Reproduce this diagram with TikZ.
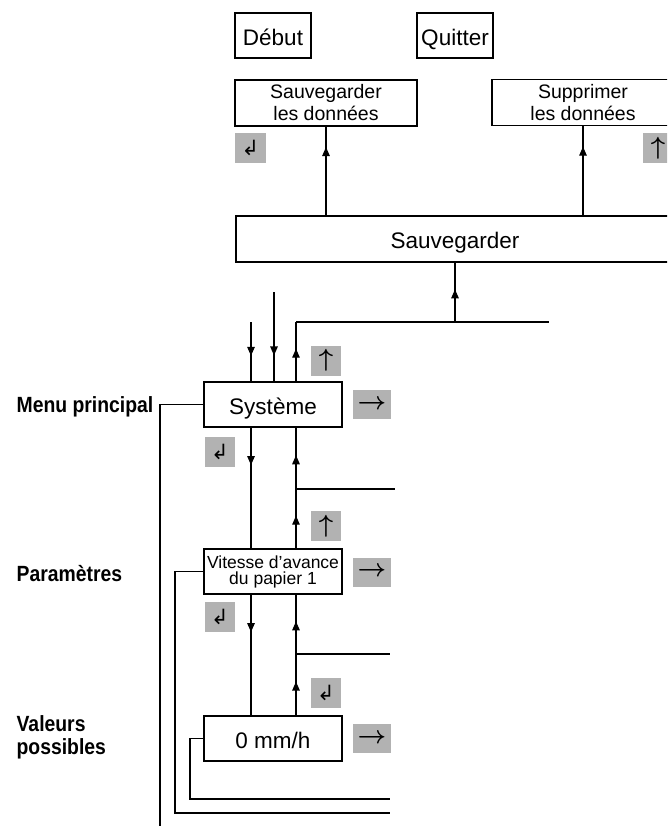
\documentclass[tikz,border=0pt]{standalone}
\usepackage{fontspec}
\setmainfont{Liberation Sans}
\newfontfamily\lblfont[FakeStretch=0.88]{Liberation Sans}
\newfontfamily\symfont{DejaVu Sans}
\usetikzlibrary{arrows.meta,decorations.markings}
\definecolor{keygray}{RGB}{178,178,178}
\tikzstyle{menubox} = [draw, line width=1.3pt, inner sep=0pt, align=center, font=\fontsize{22.5}{26}\selectfont]
\tikzstyle{oneline} = [text height=19.5pt, text depth=0pt]
\tikzstyle{key} = [fill=keygray, inner sep=0pt, minimum height=30pt, font=\fontsize{25}{25}\selectfont\boldmath]
\tikzstyle{lbl} = [anchor=west, inner sep=0pt, align=left, font=\lblfont\bfseries\fontsize{22}{23}\selectfont]
\tikzset{midarrow/.style={postaction={decorate},
    decoration={markings, mark=at position #1 with {\arrow{Triangle[length=9pt,width=7.5pt]}}}}}
\newcommand{\enterkey}{{\symfont\fontsize{21}{21}\selectfont ↲}}

\begin{document}
\begin{tikzpicture}[x=1pt, y=-1pt, line width=1.3pt]
       \useasboundingbox (0,0) rectangle (667,826);
       \clip (0,0) rectangle (667,826);

       % boxes
       \node[menubox, oneline, minimum width=76pt, minimum height=45pt] (debut) at (273,35.5) {Début};
       \node[menubox, oneline, minimum width=76pt, minimum height=45pt] (quit) at (455,35.5) {Quitter};
       \node[menubox, minimum width=182pt, minimum height=46pt, font=\fontsize{19.5}{22}\selectfont] (savdon) at (326,103) {Sauvegarder\\les données};
       \node[menubox, minimum width=182pt, minimum height=46pt, font=\fontsize{19.5}{22}\selectfont] (suppr) at (583,102.5) {Supprimer\\les données};
       \node[menubox, oneline, minimum width=438pt, minimum height=46pt] (sauv) at (455,239) {Sauvegarder};
       \node[menubox, oneline, minimum width=138pt, minimum height=45pt] (syst) at (273,404.5) {Système};
       \node[menubox, minimum width=138pt, minimum height=45pt, font=\fontsize{17.5}{16}\selectfont] (vit) at (273,571.5) {Vitesse d’avance\\du papier 1};
       \node[menubox, oneline, minimum width=138pt, minimum height=45pt] (zero) at (273,738.5) {0 mm/h};

       % keys
       \node[key, minimum width=31pt] (k1) at (250.5,148) {\enterkey};
       \node[key, minimum width=30pt] (k2) at (658,148.5) {$\uparrow$};
       \node[key, minimum width=30pt] (k3) at (326,360.5) {$\uparrow$};
       \node[key, minimum width=38pt, minimum height=29pt] (k4) at (372,404.5) {$\rightarrow$};
       \node[key, minimum width=30pt] (k5) at (220,451.5) {\enterkey};
       \node[key, minimum width=30pt] (k6) at (326,526) {$\uparrow$};
       \node[key, minimum width=38pt, minimum height=29pt] (k7) at (372,572) {$\rightarrow$};
       \node[key, minimum width=30pt] (k8) at (220,617) {\enterkey};
       \node[key, minimum width=30pt] (k9) at (326,692.5) {\enterkey};
       \node[key, minimum width=38pt, minimum height=29pt] (k10) at (372,738.5) {$\rightarrow$};

       % labels
       \node[lbl] (mp) at (16,407) {Menu principal};
       \node[lbl] (par) at (16,574) {Paramètres};
       \node[lbl] (val) at (16,737.5) {Valeurs\\possibles};

       \coordinate (b1) at (296,322);
       \coordinate (e1) at (549,322);
       \coordinate (in1) at (251,322);
       \coordinate (in2) at (274,292);
       \coordinate (b2) at (296,489);
       \coordinate (e2) at (395,489);
       \coordinate (b3) at (296,654);
       \coordinate (e3) at (390,654);
       \coordinate (l1) at (160,830);
       \coordinate (l2) at (175,813);
       \coordinate (l2e) at (390,813);
       \coordinate (l3) at (190,799);
       \coordinate (l3e) at (390,799);

       % top part
       \draw[midarrow=0.77] (savdon.south |- sauv.north) -- (savdon.south);
       \draw[midarrow=0.77] (suppr.south |- sauv.north) -- (suppr.south);
       \draw (b1) -- (e1);
       \draw[midarrow=0.55] (sauv.south |- b1) -- (sauv.south);
       \draw[midarrow=0.55] (syst.north -| b1) -- (b1);
       \draw[midarrow=0.57] (in1) -- (syst.north -| in1);
       \draw[midarrow=0.71] (in2) -- (syst.north -| in2);

       % Systeme -> Vitesse
       \draw[midarrow=0.31] (syst.south -| in1) -- (vit.north -| in1);
       \draw (b2) -- (e2);
       \draw[midarrow=0.55] (vit.north -| b2) -- (b2);
       \draw[midarrow=0.55] (b2) -- (syst.south -| b2);

       % Vitesse -> 0 mm/h
       \draw[midarrow=0.31] (vit.south -| in1) -- (zero.north -| in1);
       \draw (b3) -- (e3);
       \draw[midarrow=0.55] (zero.north -| b3) -- (b3);
       \draw[midarrow=0.55] (b3) -- (vit.south -| b3);

       % brackets on the left
       \draw (syst.west) -| (l1);
       \draw (vit.west) -| (l2) -- (l2e);
       \draw (zero.west) -| (l3) -- (l3e);
\end{tikzpicture}
\end{document}
